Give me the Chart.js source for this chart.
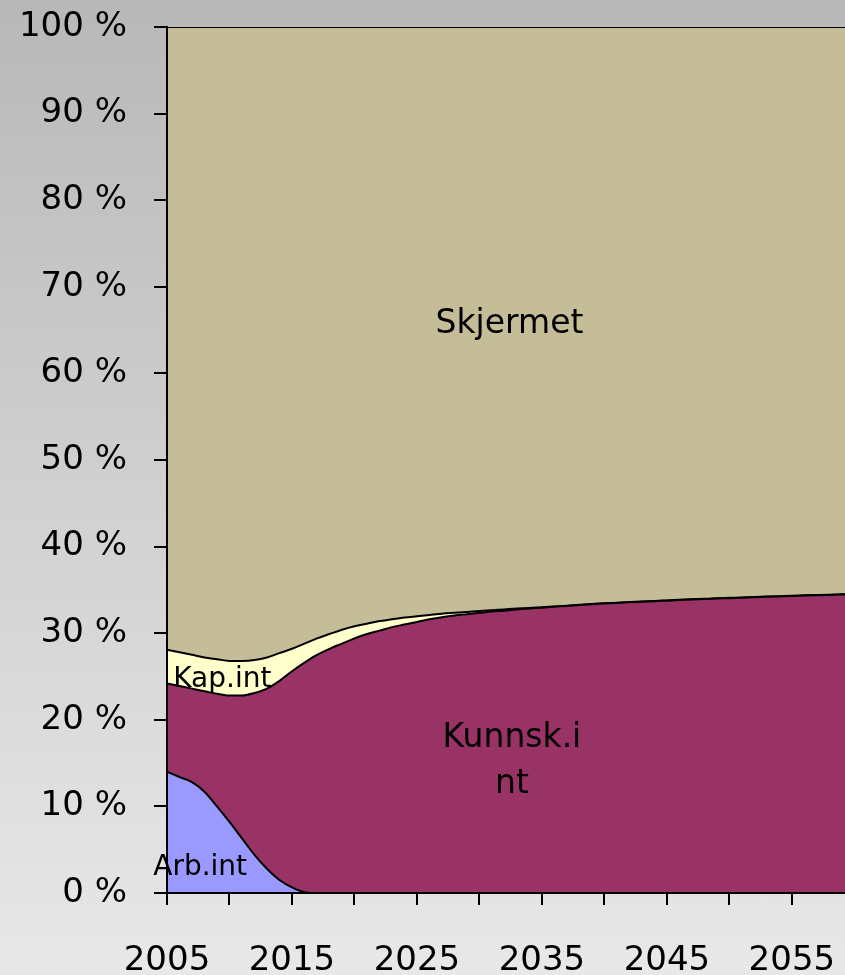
<!DOCTYPE html>
<html>
<head>
<meta charset="utf-8">
<script src="https://cdn.jsdelivr.net/npm/chart.js@4/dist/chart.umd.min.js"></script>
<style>
  html, body { margin: 0; padding: 0; overflow: hidden; }
  body { width: 845px; height: 975px; background: linear-gradient(to bottom, #b8b8b8 0%, #e8e8e8 100%); }
  canvas { display: block; }
</style>
</head>
<body>
<canvas id="chart" width="845" height="975"></canvas>
<script>
// years 2005-2060, shares in percent
const years = [2005, 2006, 2007, 2008, 2009, 2010, 2011, 2012, 2013, 2014,
    2015, 2016, 2017, 2018, 2019, 2020, 2021, 2022, 2023, 2024,
    2025, 2026, 2027, 2028, 2029, 2030, 2031, 2032, 2033, 2034,
    2035, 2036, 2037, 2038, 2039, 2040, 2041, 2042, 2043, 2044,
    2045, 2046, 2047, 2048, 2049, 2050, 2051, 2052, 2053, 2054,
    2055, 2056, 2057, 2058, 2059, 2060];

const arbInt = [14.0, 13.4, 12.8, 11.7, 10.0, 8.2, 6.3, 4.4, 2.8, 1.5,
    0.65, 0.1, 0, 0, 0, 0, 0, 0, 0, 0,
    0, 0, 0, 0, 0, 0, 0, 0, 0, 0,
    0, 0, 0, 0, 0, 0, 0, 0, 0, 0,
    0, 0, 0, 0, 0, 0, 0, 0, 0, 0,
    0, 0, 0, 0, 0, 0];

const kunnskInt = [10.2, 10.5, 10.8, 11.6, 13.0, 14.6, 16.5, 18.7, 20.8, 23.0,
    24.95, 26.5, 27.5, 28.2, 28.8, 29.4, 29.9, 30.3, 30.7, 31.0,
    31.3, 31.6, 31.85, 32.05, 32.2, 32.35, 32.5, 32.6, 32.75, 32.85,
    32.95, 33.05, 33.15, 33.25, 33.35, 33.42, 33.5, 33.57, 33.63, 33.7,
    33.76, 33.82, 33.88, 33.94, 34.0, 34.05, 34.1, 34.15, 34.2, 34.25,
    34.3, 34.34, 34.38, 34.42, 34.46, 34.5];

const kapInt = [3.9, 3.9, 3.9, 3.9, 4.0, 4.0, 4.0, 3.8, 3.6, 3.2,
    2.6, 2.2, 1.9, 1.7, 1.6, 1.4, 1.2, 1.1, 0.9, 0.8,
    0.65, 0.5, 0.4, 0.3, 0.25, 0.2, 0.15, 0.15, 0.1, 0.05,
    0.05, 0.03, 0.03, 0.03, 0.03, 0.03, 0.03, 0.03, 0.03, 0.03,
    0.03, 0.03, 0.03, 0.03, 0.03, 0.03, 0.03, 0.03, 0.03, 0.03,
    0.03, 0.03, 0.03, 0.03, 0.03, 0.03];

const skjermet = [71.9, 72.2, 72.5, 72.8, 73.0, 73.2, 73.2, 73.1, 72.8, 72.3,
    71.8, 71.2, 70.6, 70.1, 69.6, 69.2, 68.9, 68.6, 68.4, 68.2,
    68.05, 67.9, 67.75, 67.65, 67.55, 67.45, 67.35, 67.25, 67.15, 67.1,
    67.0, 66.92, 66.82, 66.72, 66.62, 66.55, 66.47, 66.4, 66.34, 66.27,
    66.21, 66.15, 66.09, 66.03, 65.97, 65.92, 65.87, 65.82, 65.77, 65.72,
    65.67, 65.63, 65.59, 65.55, 65.51, 65.47];

const xTickYears = [2005, 2010, 2015, 2020, 2025, 2030, 2035, 2040, 2045, 2050, 2055];
const xTickLabels = ['2005', '2015', '2025', '2035', '2045', '2055'];
const yTickLabels = ['0 %', '10 %', '20 %', '30 %', '40 %', '50 %', '60 %', '70 %', '80 %', '90 %', '100 %'];

// area labels: [text, year, percent, align, font size]
const areaLabels = [
    ['Skjermet', 2032.4, 65.6, 'center', 33],
    ['Kunnsk.i', 2032.6, 17.9, 'center', 33],
    ['nt', 2032.6, 12.5, 'center', 33],
    ['Kap.int', 2005.5, 24.6, 'left', 28],
    ['Arb.int', 2003.9, 2.9, 'left', 28]
];

const pts = (vals) => vals.map((v, i) => ({ x: years[i], y: v }));

const areaText = {
    id: 'areaText',
    afterDatasetsDraw(chart) {
        const { ctx, scales: { x, y } } = chart;
        ctx.save();
        ctx.fillStyle = '#000';
        ctx.textBaseline = 'middle';
        areaLabels.forEach(([txt, yr, pc, align, size]) => {
            ctx.font = size + 'px "DejaVu Sans"';
            ctx.textAlign = align;
            ctx.fillText(txt, x.getPixelForValue(yr), y.getPixelForValue(pc));
        });
        ctx.restore();
    }
};

const common = {
    borderColor: '#000',
    borderWidth: 2,
    pointRadius: 0,
    cubicInterpolationMode: 'monotone'
};

new Chart(document.getElementById('chart'), {
    type: 'line',
    data: {
        datasets: [
            { ...common, label: 'Arb.int', data: pts(arbInt), backgroundColor: '#9999ff', fill: 'origin' },
            { ...common, label: 'Kunnsk.int', data: pts(kunnskInt), backgroundColor: '#993366', fill: '-1' },
            { ...common, label: 'Kap.int', data: pts(kapInt), backgroundColor: '#ffffcc', fill: '-1' },
            { ...common, label: 'Skjermet', data: pts(skjermet), backgroundColor: '#c4bd97', fill: '-1' }
        ]
    },
    options: {
        responsive: false,
        animation: false,
        layout: { padding: { top: 27, right: 0, left: 0, bottom: 0 } },
        plugins: { legend: { display: false }, tooltip: { enabled: false } },
        scales: {
            x: {
                type: 'linear',
                min: 2005,
                max: 2059.25,
                border: { color: '#000', width: 2, z: 1 },
                grid: { drawOnChartArea: false, color: '#000', lineWidth: 2, tickLength: 12 },
                ticks: {
                    autoSkip: false,
                    maxRotation: 0,
                    padding: 36,
                    color: '#000',
                    font: { family: 'DejaVu Sans', size: 34 },
                    callback: (v) => {
                        const s = String(Math.round(v));
                        return xTickLabels.includes(s) ? s : '';
                    }
                },
                afterBuildTicks: (s) => { s.ticks = xTickYears.map(v => ({ value: v })); },
                afterFit: (s) => { s.height = 82; s.paddingRight = 0; }
            },
            y: {
                stacked: true,
                min: 0,
                max: 100,
                border: { color: '#000', width: 2, z: 1 },
                grid: { drawOnChartArea: false, color: '#000', lineWidth: 2, tickLength: 13 },
                ticks: {
                    stepSize: 10,
                    padding: 27,
                    color: '#000',
                    font: { family: 'DejaVu Sans', size: 34 },
                    callback: (v) => yTickLabels[Math.round(v / 10)]
                },
                afterFit: (s) => { s.width = 167; s.paddingTop = 0; s.paddingBottom = 0; }
            }
        }
    },
    plugins: [areaText]
});
</script>
</body>
</html>
